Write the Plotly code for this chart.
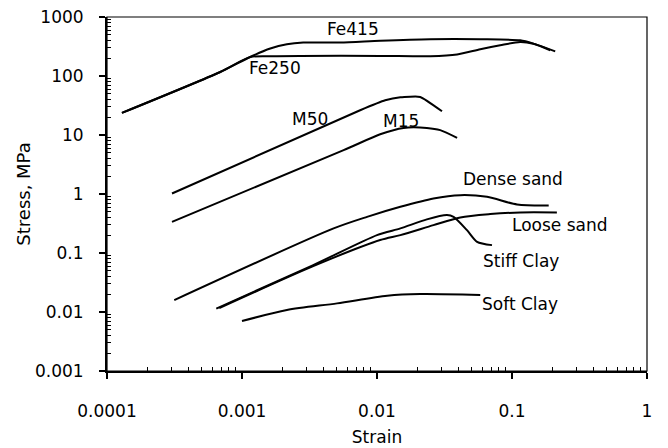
import numpy as np
import plotly.graph_objects as go

# Stress-strain curves of common construction materials (log-log)
fe250_strain = [0.000129, 0.00069, 0.00115, 0.0016, 0.0027, 0.0106, 0.0248, 0.0392, 0.0582, 0.0818, 0.115, 0.144, 0.192]
fe250_stress = [23.7, 117, 210, 217, 219, 219, 216, 231, 284, 332, 377, 352, 273]

fe415_strain = [0.000129, 0.00069, 0.00115, 0.00162, 0.00215, 0.00284, 0.00535, 0.0106, 0.0248, 0.0582, 0.115, 0.144, 0.209]
fe415_stress = [23.7, 117, 210, 292, 345, 369, 369, 395, 419, 419, 403, 354, 262]

m50_strain = [0.000303, 0.0075, 0.0115, 0.0149, 0.0209, 0.0303]
m50_stress = [1.02, 26.3, 38.8, 43.6, 44.2, 25.3]

m15_strain = [0.000303, 0.00566, 0.01056, 0.0157, 0.0234, 0.0294, 0.0392]
m15_stress = [0.337, 5.53, 10.3, 13.2, 13.2, 12.1, 8.93]

dense_sand_strain = [0.000315, 0.00477, 0.00844, 0.0149, 0.0262, 0.0414, 0.0653, 0.109, 0.187]
dense_sand_stress = [0.0159, 0.261, 0.410, 0.606, 0.841, 0.956, 0.895, 0.665, 0.640]

loose_sand_strain = [0.000679, 0.00337, 0.01056, 0.0149, 0.0262, 0.0414, 0.069, 0.115, 0.215]
loose_sand_stress = [0.01166, 0.060, 0.166, 0.201, 0.297, 0.401, 0.456, 0.487, 0.487]

stiff_clay_strain = [0.000645, 0.00337, 0.01, 0.0149, 0.0234, 0.033, 0.0369, 0.0464, 0.0551, 0.0711]
stiff_clay_stress = [0.01143, 0.0624, 0.201, 0.261, 0.371, 0.439, 0.410, 0.244, 0.155, 0.136]

soft_clay_strain = [0.001, 0.00215, 0.00506, 0.0119, 0.0209, 0.0582]
soft_clay_stress = [0.00703, 0.0108, 0.0140, 0.0188, 0.0201, 0.0194]

x_ticks = [0.0001, 0.001, 0.01, 0.1, 1]
x_tick_text = ["0.0001", "0.001", "0.01", "0.1", "1"]
y_ticks = [0.001, 0.01, 0.1, 1, 10, 100, 1000]
y_tick_text = ["0.001", "0.01", "0.1", "1", "10", "100", "1000"]

FONT = "DejaVu Sans, Arial, sans-serif"


def log_minor(decade_starts):
    """Minor tick positions 2..9 within each decade."""
    return [m * d for d in decade_starts for m in range(2, 10)]


curves = [
    ("Fe250", fe250_strain, fe250_stress, 0.7),
    ("Fe415", fe415_strain, fe415_stress, 0.7),
    ("M50", m50_strain, m50_stress, 0.4),
    ("M15", m15_strain, m15_stress, 0.7),
    ("Dense sand", dense_sand_strain, dense_sand_stress, 0.8),
    ("Loose sand", loose_sand_strain, loose_sand_stress, 0.8),
    ("Stiff Clay", stiff_clay_strain, stiff_clay_stress, 0.7),
    ("Soft Clay", soft_clay_strain, soft_clay_stress, 0.8),
]

fig = go.Figure()
for name, xs, ys, smooth in curves:
    fig.add_trace(go.Scatter(
        x=xs, y=ys, mode="lines", name=name,
        line=dict(color="black", width=2, shape="spline", smoothing=smooth),
        hoverinfo="name+x+y",
    ))

# curve labels, positioned in log10 axis units
labels = [
    ("Fe415", -2.176, 2.792),
    ("Fe250", -2.753, 2.131),
    ("M50", -2.494, 1.268),
    ("M15", -1.820, 1.234),
    ("Dense sand", -0.990, 0.252),
    ("Loose sand", -0.642, -0.528),
    ("Stiff Clay", -0.931, -1.137),
    ("Soft Clay", -0.939, -1.865),
]
for text, lx, ly in labels:
    fig.add_annotation(x=lx, y=ly, text=text, showarrow=False,
                       xanchor="center", yanchor="middle",
                       font=dict(family=FONT, size=17, color="black"))

axis_common = dict(
    type="log", showgrid=False, zeroline=False, automargin=False,
    showline=True, linewidth=2, linecolor="black",
    ticks="outside", ticklen=6, tickwidth=1.5, tickcolor="black",
    tickfont=dict(family=FONT, size=17, color="black"),
)

fig.update_xaxes(
    **axis_common, range=[-4, 0],
    tickmode="array", tickvals=x_ticks, ticktext=x_tick_text,
    minor=dict(tickmode="array", tickvals=log_minor(x_ticks[:-1]),
               ticks="inside", ticklen=4, tickwidth=1.2, tickcolor="black", showgrid=False),
    ticklabelstandoff=18,
    title=dict(text="Strain", font=dict(family=FONT, size=17, color="black"), standoff=11),
)
fig.update_yaxes(
    **axis_common, range=[-3, 3],
    tickmode="array", tickvals=y_ticks, ticktext=y_tick_text,
    minor=dict(tickmode="array", tickvals=log_minor(y_ticks[:-1]),
               ticks="inside", ticklen=4, tickwidth=1.2, tickcolor="black", showgrid=False),
    ticklabelstandoff=12,
    title=dict(text="Stress, MPa", font=dict(family=FONT, size=18, color="black"), standoff=0),
)

# thin frame along the top and right edges of the plot area
fig.add_shape(type="rect", xref="paper", yref="paper", x0=0, y0=0, x1=1, y1=1,
              line=dict(color="black", width=1.2), layer="below")

fig.update_layout(
    width=668, height=448,
    margin=dict(l=107, r=21, t=17, b=77),
    paper_bgcolor="white", plot_bgcolor="white",
    showlegend=False,
    font=dict(family=FONT, color="black"),
)

fig.write_html("out.html")
